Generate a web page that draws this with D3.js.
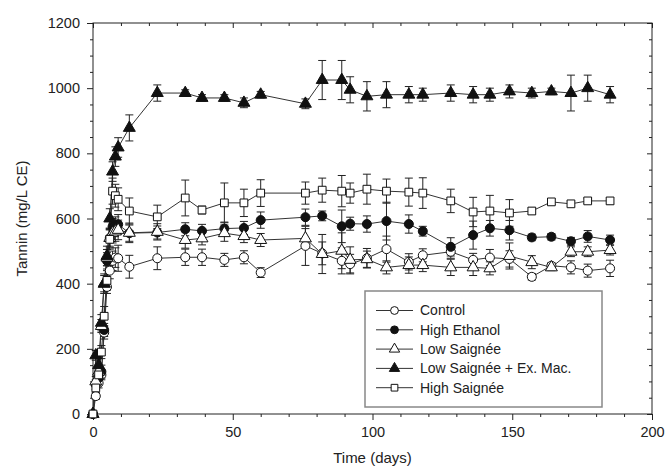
<!DOCTYPE html>
<html>
<head>
<meta charset="utf-8">
<script src="https://cdn.jsdelivr.net/npm/d3@7"></script>
<style>
  body { margin: 0; background: #fff; }
  text { font-family: "Liberation Sans", Arial, Helvetica, sans-serif; fill: #222; }
</style>
</head>
<body>
<div id="chart"></div>
<script>
// sampling days (same for every treatment)
const days = [0, 1, 2, 3, 4, 5, 6, 7, 8, 9, 13, 23, 33, 39, 47, 54, 60, 76, 82, 89, 92, 98,
  105, 113, 118, 128, 136, 142, 149, 157, 164, 171, 177, 185];

const seriesNames = ["Control", "High Ethanol", "Low Saignée", "Low Saignée + Ex. Mac.", "High Saignée"];

// tannin, mg/L CE
const control = [0, 55, 95, 120, 250, 390, 440, 470, 480, 478, 452, 478,
  481, 481, 473, 481, 434, 516, 493, 470, 460, 478, 506, 467, 487, 498, 473, 480, 476, 421, 455, 450, 440, 447];
const controlErr = [0, 10, 15, 15, 20, 20, 25, 30, 30, 40, 35, 35,
  25, 25, 20, 20, 15, 60, 35, 40, 30, 30, 40, 25, 20, 20, 20, 25, 25, 10, 10, 20, 20, 25];

const highEthanol = [0, 90, 110, 130, 258, 470, 540, 575, 580, 582, 555, 557,
  567, 562, 569, 571, 595, 604, 608, 576, 584, 583, 592, 583, 561, 513, 549, 570, 564, 542, 544, 530, 545, 534];
const highEthanolErr = [0, 15, 15, 20, 20, 25, 25, 25, 25, 30, 25, 20,
  20, 20, 20, 20, 25, 25, 15, 50, 20, 25, 58, 28, 15, 28, 43, 24, 30, 10, 10, 12, 18, 15];

const lowSaignee = [0, 100, 130, 270, 400, 480, 540, 555, 560, 565, 556, 559,
  534, 539, 555, 546, 534, 539, 491, 501, 473, 475, 450, 457, 457, 450, 450, 447, 485, 466, 450, 498, 498, 503];
const lowSaigneeErr = [0, 15, 15, 20, 25, 25, 30, 30, 30, 30, 30, 25,
  25, 20, 25, 20, 20, 30, 60, 55, 40, 25, 20, 25, 20, 25, 25, 20, 40, 20, 10, 15, 15, 15];

const lowSaigneeExMac = [0, 180, 150, 280, 400, 485, 600, 744, 790, 818, 878, 985,
  985, 970, 970, 955, 980, 952, 1025, 1025, 995, 975, 980, 980, 980, 985, 980, 980, 990, 985, 990, 985, 1000, 980];
const lowSaigneeExMacErr = [0, 15, 20, 25, 30, 30, 30, 30, 30, 30, 40, 25,
  10, 10, 10, 15, 10, 15, 60, 60, 40, 45, 40, 25, 20, 25, 25, 20, 20, 15, 10, 55, 40, 25];

const highSaignee = [0, 80, 120, 190, 300, 410, 536, 684, 670, 659, 623, 605,
  663, 626, 648, 648, 678, 678, 687, 684, 678, 690, 684, 681, 678, 654, 620, 623, 617, 623, 651, 645, 654, 654];
const highSaigneeErr = [0, 15, 20, 20, 30, 30, 30, 40, 35, 35, 40, 36,
  55, 12, 61, 42, 41, 34, 37, 48, 31, 46, 37, 43, 47, 36, 45, 48, 41, 10, 8, 8, 8, 10];

const xMajor = [0, 50, 100, 150, 200];
const yMajor = [0, 200, 400, 600, 800, 1000, 1200];

const series = [
  {name: seriesNames[0], values: control, err: controlErr, shape: d3.symbolCircle, filled: false},
  {name: seriesNames[1], values: highEthanol, err: highEthanolErr, shape: d3.symbolCircle, filled: true},
  {name: seriesNames[2], values: lowSaignee, err: lowSaigneeErr, shape: d3.symbolTriangle, filled: false},
  {name: seriesNames[3], values: lowSaigneeExMac, err: lowSaigneeExMacErr, shape: d3.symbolTriangle, filled: true},
  {name: seriesNames[4], values: highSaignee, err: highSaigneeErr, shape: d3.symbolSquare, filled: false}
];

const margin = {top: 23, right: 18, bottom: 57, left: 93},
    width = 670 - margin.left - margin.right,
    height = 471 - margin.top - margin.bottom;

const svg = d3.select("#chart")
  .append("svg")
    .attr("width", 670)
    .attr("height", 471)
  .append("g")
    .attr("transform", `translate(${margin.left}, ${margin.top})`);

const x = d3.scaleLinear().domain([0, 200]).range([0, width]);
const y = d3.scaleLinear().domain([0, 1200]).range([height, 0]);

const xMinor = d3.range(0, 201, 10).filter(d => xMajor.indexOf(d) < 0);
const yMinor = d3.range(0, 1201, 50).filter(d => yMajor.indexOf(d) < 0);

// bottom axis
svg.append("g")
  .attr("transform", `translate(0, ${height})`)
  .call(d3.axisBottom(x).tickValues(xMajor).tickFormat(d3.format("d")).tickSize(6).tickSizeOuter(0).tickPadding(7))
  .call(g => g.select(".domain").remove())
  .style("font-size", "14.5px");
svg.append("g")
  .attr("transform", `translate(0, ${height})`)
  .call(d3.axisBottom(x).tickValues(xMinor).tickSize(3).tickFormat(""))
  .call(g => g.select(".domain").remove());

// left axis
svg.append("g")
  .call(d3.axisLeft(y).tickValues(yMajor).tickFormat(d3.format("d")).tickSize(6).tickSizeOuter(0).tickPadding(7))
  .call(g => g.select(".domain").remove())
  .style("font-size", "14.5px");
svg.append("g")
  .call(d3.axisLeft(y).tickValues(yMinor).tickSize(3).tickFormat(""))
  .call(g => g.select(".domain").remove());

// top and right: ticks pointing inside
svg.append("g")
  .call(d3.axisTop(x).tickValues(xMajor).tickSize(-5).tickFormat(""))
  .call(g => g.select(".domain").remove());
svg.append("g")
  .call(d3.axisTop(x).tickValues(xMinor).tickSize(-3).tickFormat(""))
  .call(g => g.select(".domain").remove());
svg.append("g")
  .attr("transform", `translate(${width}, 0)`)
  .call(d3.axisRight(y).tickValues(yMajor).tickSize(-5).tickFormat(""))
  .call(g => g.select(".domain").remove());
svg.append("g")
  .attr("transform", `translate(${width}, 0)`)
  .call(d3.axisRight(y).tickValues(yMinor).tickSize(-3).tickFormat(""))
  .call(g => g.select(".domain").remove());

svg.selectAll(".tick line").attr("stroke", "#222");
svg.selectAll(".tick text").attr("fill", "#222");

// frame
svg.append("rect")
  .attr("width", width)
  .attr("height", height)
  .attr("fill", "none")
  .attr("stroke", "#222")
  .attr("stroke-width", 1);

// axis titles
svg.append("text")
  .attr("text-anchor", "middle")
  .attr("x", width / 2)
  .attr("y", height + 49)
  .style("font-size", "15px")
  .text("Time (days)");

svg.append("text")
  .attr("text-anchor", "middle")
  .attr("transform", `translate(${-66}, ${height / 2}) rotate(-90)`)
  .style("font-size", "15px")
  .text("Tannin (mg/L CE)");

const line = d3.line()
  .x((d, i) => x(days[i]))
  .y(d => y(d));

// lines
series.forEach(s => {
  svg.append("path")
    .datum(s.values)
    .attr("d", line)
    .attr("fill", "none")
    .attr("stroke", "#333")
    .attr("stroke-width", 1);
});

// error bars
const cap = 4;
series.forEach(s => {
  const g = svg.append("g").attr("stroke", "#222").attr("stroke-width", 1);
  s.values.forEach((v, i) => {
    const e = s.err[i];
    if (!e) return;
    const cx = x(days[i]);
    g.append("line").attr("x1", cx).attr("x2", cx).attr("y1", y(v - e)).attr("y2", y(v + e));
    g.append("line").attr("x1", cx - cap).attr("x2", cx + cap).attr("y1", y(v - e)).attr("y2", y(v - e));
    g.append("line").attr("x1", cx - cap).attr("x2", cx + cap).attr("y1", y(v + e)).attr("y2", y(v + e));
  });
});

function symbolSize(shape) {
  if (shape === d3.symbolTriangle) return 62;
  if (shape === d3.symbolSquare) return 60;
  return 64;
}

// markers
series.forEach(s => {
  svg.append("g")
    .selectAll("path")
    .data(s.values)
    .join("path")
      .attr("transform", (d, i) => `translate(${x(days[i])}, ${y(d)})`)
      .attr("d", d3.symbol().type(s.shape).size(symbolSize(s.shape)))
      .attr("fill", s.filled ? "#111" : "#fff")
      .attr("stroke", "#111")
      .attr("stroke-width", 1);
});

// legend
const legend = svg.append("g")
  .attr("transform", `translate(${365 - margin.left}, ${291 - margin.top})`);

legend.append("rect")
  .attr("width", 237)
  .attr("height", 116)
  .attr("fill", "#fff")
  .attr("stroke", "#888")
  .attr("stroke-width", 1.5);

series.forEach((s, i) => {
  const row = legend.append("g").attr("transform", `translate(0, ${19.5 + i * 19.3})`);
  row.append("line")
    .attr("x1", 11).attr("x2", 48)
    .attr("stroke", "#333").attr("stroke-width", 1);
  row.append("path")
    .attr("transform", "translate(29.5, 0)")
    .attr("d", d3.symbol().type(s.shape).size(symbolSize(s.shape) * 0.75))
    .attr("fill", s.filled ? "#111" : "#fff")
    .attr("stroke", "#111");
  row.append("text")
    .attr("x", 55)
    .attr("dy", "0.35em")
    .style("font-size", "14px")
    .text(s.name);
});
</script>
</body>
</html>
